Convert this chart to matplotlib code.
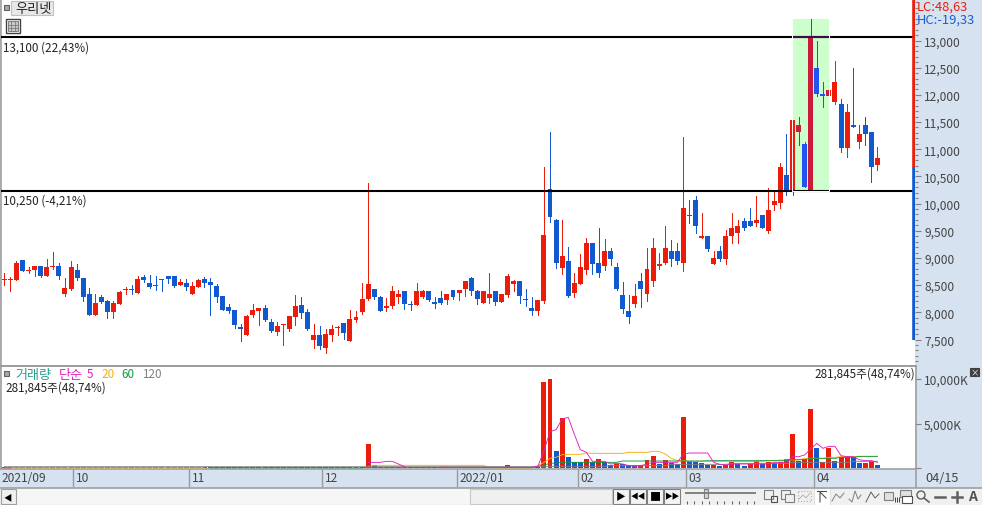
import matplotlib
matplotlib.use('Agg')
import matplotlib.pyplot as plt
from matplotlib.patches import Rectangle, Circle
from matplotlib.ticker import FuncFormatter, MultipleLocator

plt.rcParams['font.family'] = ['Noto Sans CJK KR', 'DejaVu Sans']
plt.rcParams['font.size'] = 8.4

# daily candles
opens = [8603, 8603, 8591, 8971, 8756, 8775, 8861, 8677, 8830, 8861,
         8345, 8437, 8787, 8640, 8345, 7959, 8290, 8217, 8014, 8161,
         8407, 8437, 8364, 8658, 8548, 8511, 8621, 8677, 8677, 8499,
         8548, 8345, 8474, 8621, 8566, 8493, 8309, 8106, 8051, 7738,
         7591, 7959, 8033, 8088, 7830, 7646, 7775, 7702, 7922, 8143,
         8014, 7499, 7591, 7346, 7591, 7720, 7812, 7481, 7867, 8015,
         8254, 8438, 8291, 8088, 8125, 8291, 8383, 8162, 8143, 8291,
         8401, 8199, 8272, 8235, 8419, 8364, 8438, 8640, 8383, 8180,
         8272, 8383, 8199, 8327, 8530, 8585, 8254, 8088, 8033, 8217,
         10277, 9707, 8824, 8953, 8364, 8530, 8787, 9284, 8916, 8861,
         9137, 8842, 8327, 8033, 8144, 8585, 8346, 8567, 8861, 8916,
         9119, 9119, 8916, 9781, 10075, 9376, 9413, 8898, 9137, 8990,
         9395, 9450, 9689, 9671, 9652, 9799, 9487, 9965, 10020, 10535,
         10241, 11308, 11087, 10241, 12485, 12025, 11970, 11860, 11841, 11014,
         11437, 11124, 11437, 11326, 10719]
closes = [8621, 8621, 8916, 8756, 8787, 8861, 8664, 8842, 8861, 8664,
          8456, 8842, 8628, 8278, 7959, 8180, 8198, 8014, 8180, 8382,
          8437, 8407, 8621, 8603, 8474, 8480, 8591, 8621, 8493, 8566,
          8474, 8493, 8603, 8548, 8499, 8290, 8051, 8033, 7775, 7702,
          7941, 8051, 8088, 7867, 7665, 7757, 7794, 7941, 8125, 7996,
          7702, 7591, 7389, 7610, 7702, 7739, 7628, 7886, 7923, 8254,
          8530, 8291, 8033, 8125, 8383, 8346, 8162, 8143, 8401, 8383,
          8235, 8162, 8180, 8346, 8291, 8419, 8585, 8401, 8254, 8383,
          8346, 8199, 8346, 8677, 8585, 8309, 8235, 8033, 8235, 9431,
          9762, 8916, 9045, 8309, 8548, 8842, 9284, 8898, 8732, 9137,
          8990, 8438, 8070, 7923, 8309, 8420, 8788, 9192, 8880, 9192,
          8990, 8953, 9928, 9763, 9579, 9413, 9156, 9008, 8990, 9395,
          9542, 9579, 9542, 9579, 9707, 9542, 9891, 10039, 10682, 10241,
          11529, 11437, 10314, 13074, 12007, 11970, 12081, 12228, 11014, 11676,
          11418, 11289, 11271, 10664, 10830]
highs = [8732, 8646, 8953, 8971, 8836, 8861, 8861, 8989, 9118, 8916,
         8640, 8953, 8897, 8640, 8456, 8345, 8327, 8235, 8217, 8401,
         8468, 8511, 8677, 8695, 8695, 8677, 8621, 8677, 8677, 8621,
         8621, 8566, 8621, 8658, 8640, 8529, 8309, 8161, 8051, 7794,
         7959, 8161, 8088, 8143, 7886, 7830, 7794, 7941, 8327, 8290,
         8069, 7794, 7757, 7702, 7775, 7757, 7812, 8051, 8033, 8548,
         10388, 8438, 8309, 8272, 8475, 8419, 8383, 8217, 8548, 8419,
         8401, 8291, 8383, 8346, 8419, 8419, 8585, 8658, 8419, 8383,
         8732, 8383, 8346, 8714, 8603, 8585, 8438, 8291, 8235, 10682,
         11326, 9725, 9707, 9210, 8732, 9081, 9376, 9284, 9560, 9357,
         9174, 8916, 8566, 8327, 8512, 8732, 9192, 9376, 9082, 9597,
         9339, 9266, 11234, 10075, 10131, 9818, 9413, 9119, 9211, 9523,
         9818, 9707, 9726, 9910, 10131, 9799, 10278, 10241, 10738, 11289,
         11529, 11584, 11142, 13405, 12982, 12228, 12890, 12632, 11933, 11841,
         12485, 11437, 11584, 11326, 11032]
lows = [8499, 8388, 8591, 8756, 8732, 8664, 8646, 8664, 8793, 8609,
        8296, 8407, 8603, 8217, 7947, 7959, 8180, 7904, 7904, 8161,
        8345, 8333, 8364, 8566, 8456, 8419, 8401, 8548, 8474, 8499,
        8419, 8345, 8474, 8474, 7959, 8198, 8051, 7996, 7720, 7481,
        7591, 7922, 7775, 7849, 7646, 7591, 7407, 7665, 7775, 7904,
        7683, 7352, 7334, 7260, 7481, 7591, 7518, 7481, 7831, 7978,
        8235, 8254, 8033, 8033, 8088, 8180, 8070, 8051, 8143, 8272,
        8217, 8088, 8162, 8162, 8254, 8235, 8309, 8327, 8162, 8180,
        8180, 8143, 8199, 8291, 8401, 8180, 8125, 7959, 7959, 8180,
        9670, 8824, 8714, 8291, 8291, 8530, 8714, 8714, 8658, 8787,
        8879, 8419, 7996, 7812, 8089, 8089, 8217, 8475, 8806, 8880,
        8861, 8880, 8769, 9652, 9468, 9376, 9119, 8880, 8953, 8880,
        9266, 9266, 9523, 9579, 9579, 9542, 9468, 9891, 9910, 10167,
        10167, 11069, 10314, 10241, 11970, 11768, 11823, 11823, 10958, 10866,
        11418, 11014, 11069, 10406, 10609]

# volume in thousands of shares
volumes = [110] * 60 + [2698, 337] + [110] * 21 + [337] + [110] * 5 + [
    9676, 10012, 1910, 5622, 1232, 674, 674, 1011, 674, 1011,
    674, 338, 444, 444, 338, 338, 338, 895, 1347, 444,
    895, 559, 444, 5737, 780, 674, 559, 338, 338, 223,
    338, 674, 444, 223, 444, 780, 444, 674, 559, 674,
    1011, 3825, 780, 1011, 6640, 2250, 674, 2250, 780, 1232,
    1347, 1232, 559, 559, 780, 282]
vol_colors = ('rrrbrrbrrb' 'rrbbbrbbrr' 'rbrbbbbbbr' 'brrbbbbbbb' 'rrrbbrrrrb'
              'brbrrrbrrr' 'rbbrbbrbrb' 'rbbrrbrbbr' 'rbrrbbbrr'
              'rrbrbbbrbr' 'bbrbbbrrrb' 'rbbrbbbbrb' 'rrbbrrbrbr'
              'rrbrrbrrbr' 'rbbrrb')

# averages; nan where a line can't be seen under another one
nan = float('nan')
ma5 = [20, 20] + [nan] * 58 + [637, 637, 637, 750, 750, 450, 146] + [nan] * 5 + [100] + [75] * 15 + [
    187, 1948, 4084, 4309, 5508, 5695, 3822, 2061, 1761, 749,
    749, 749, 450, 524, 450, 262, 187, 262, 450, 637,
    637, 637, 637, 637, 1574, 1686, 1686, 1686, 1686, 637,
    412, 337, 450, 450, 450, 450, 450, 450, 450, 637,
    637, 637, 1274, 1274, 1461, 2136, 2773, 2211, 2436, 2436,
    1386, 1274, 1274, 937, 824, 824, 637]
ma20 = [20] * 34 + [nan] * 26 + [150] + [300] * 19 + [30] * 8 + [
    262, 637, 1087, 1199, 1499, 1536, 1536, 1536, 1686, 1649,
    1649, 1649, 1649, 1649, 1649, 1761, 1761, 1761, 1761, 1873,
    1873, 1574, 1087, 824, 824, 749, 749, 749, 749, 749,
    749, 749, 749, 749, 749, 749, 749, 749, 824, 824,
    899, 899, 899, 899, 1087, 1087, 1087, 1087, 1199, 1199,
    1274, 1274, 1274, 1274, 1274, 1274, 1274]
ma60 = [nan] * 34 + [20] * 26 + [80] * 28 + [
    187, 337, 524, 562, 637, 637, 637, 637, 637, 637,
    637, 637, 637, 637, 787, 787, 787, 787, 787, 787,
    787, 787, 787, 787, 787, 787, 787, 787, 824, 824,
    824, 824, 824, 824, 824, 824, 824, 824, 824, 824,
    824, 824, 937, 937, 937, 1087, 1087, 1087, 1087, 1087,
    1199, 1199, 1199, 1311, 1311, 1311, 1311]
ma120 = [146] * 88 + [187] * 12 + [262] * 10 + [412] * 10 + [524] * 10 + [637] * 10 + [749] * 5

price_ticks = [7500, 8000, 8500, 9000, 9500, 10000, 10500, 11000, 11500, 12000, 12500, 13000]
volume_ticks = [0, 5000, 10000]
# where the two level lines sit on the picture's scale
resistance = 13065
support = 10240
month_ticks = [11.33, 30.46, 52.4, 74.7, 94.6, 112.4, 133.5]
month_labels = ['10', '11', '12', '2022/01', '02', '03', '04']

RED = '#ec1c0a'
BLUE = '#1059ce'
BOX_RED = '#cc1a3c'
BOX_BLUE = '#2255f0'
STRIP = '#d6e2f0'
EDGE = '#9a9a9a'
W, H = 982, 506


def px_box(x0, y0, x1, y1):
    return [x0 / W, 1 - y1 / H, (x1 - x0) / W, (y1 - y0) / H]


def draw_candles(ax, idx, up_col, down_col, clip=None):
    for i in idx:
        col = up_col if closes[i] >= opens[i] else down_col
        line = ax.vlines(i, lows[i], highs[i], color=col, lw=0.72, antialiased=False, zorder=3)
        top, bot = max(opens[i], closes[i]), min(opens[i], closes[i])
        rect = ax.bar(i, top - bot, bottom=bot, width=0.82, color=col, lw=0, antialiased=False, zorder=3)
        if clip is not None:
            line.set_clip_path(clip)
            rect[0].set_clip_path(clip)


fig = plt.figure(figsize=(W / 100, H / 100), dpi=100, facecolor=STRIP)
ax = fig.add_axes(px_box(1, 1, 915, 366))
ax_vol = fig.add_axes(px_box(1, 367, 915, 470))

x_range = (-0.549, 150.2)
n = len(opens)

# price panel
ax.set_xlim(x_range)
ax.set_ylim(7031, 13745)
box = Rectangle((129.9, 10240), 6.1, 3183, facecolor='#ccffcc', edgecolor='none', zorder=1)
ax.add_patch(box)
draw_candles(ax, range(n), RED, BLUE)
draw_candles(ax, range(131, 137), BOX_RED, BOX_BLUE, clip=box)
ax.hlines([resistance, support], x_range[0], x_range[1], color='black', lw=1.5, zorder=4)
ax.hlines(resistance, 129.9, 136.0, color='#3a0a4a', lw=1.5, zorder=5)
ax.add_patch(Rectangle((129.9, 10240), 6.1, 3183, fill=False, edgecolor='white', lw=0.7, zorder=6))
ax.vlines(149.97, 10682, 13745, color='#e8200c', lw=2.6, zorder=5)
ax.vlines(149.97, 7490, 10682, color=BLUE, lw=2.6, zorder=5)
for level, txt in [(resistance, '13,100 (22,43%)'), (support, '10,250 (-4,21%)')]:
    ax.annotate(txt, (0, level), xycoords=('axes fraction', 'data'), xytext=(1.5, -2.5),
                textcoords='offset points', va='top', color='#222222')
ax.set_xticks([])
ax.yaxis.tick_right()
ax.set_yticks(price_ticks)
ax.yaxis.set_major_formatter(FuncFormatter(lambda v, p: f'{int(v):,}'))
ax.yaxis.set_minor_locator(MultipleLocator(100))
ax.tick_params(axis='y', which='major', length=4.5, width=0.8, color='#808080', labelcolor='#444444', pad=2)
ax.tick_params(axis='y', which='minor', length=2.2, width=0.8, color='#808080')
ax.tick_params(axis='y', labelsize=8.6)

# volume panel
ax_vol.set_xlim(x_range)
ax_vol.set_ylim(-112, 11465)
ax_vol.bar(range(n), volumes, width=0.82, color=[RED if c == 'r' else BLUE for c in vol_colors],
           lw=0, antialiased=False, zorder=2)
ax_vol.plot(range(n), ma20, color='#f5b000', lw=0.65, zorder=3)
ax_vol.plot(range(n), ma60, color='#109a40', lw=0.65, zorder=4)
ax_vol.plot(range(n), ma120, color='#808080', lw=0.65, zorder=4)
ax_vol.plot(range(n), ma5, color='#e020c0', lw=0.65, zorder=5)
ax_vol.yaxis.tick_right()
ax_vol.set_yticks(volume_ticks)
ax_vol.set_yticklabels(['', '5,000K', '10,000K'])
ax_vol.tick_params(axis='y', length=4.5, width=0.8, color='#808080', labelcolor='#444444', pad=2, labelsize=8.6)
ax_vol.set_xticks(month_ticks)
ax_vol.set_xticklabels([])
ax_vol.tick_params(axis='x', length=13, width=1, color=EDGE)
for pos, label_txt in zip(month_ticks, month_labels):
    ax_vol.annotate(label_txt, (pos, 0), xycoords=('data', 'axes fraction'), xytext=(2, -1.5),
                    textcoords='offset points', va='top', color='#444444', fontsize=8.6)
for a in (ax, ax_vol):
    for spine in a.spines.values():
        spine.set_color(EDGE)
        spine.set_linewidth(1.1)
    a.spines['right'].set_visible(False)
ax.spines['top'].set_visible(False)
ax.spines['bottom'].set_visible(False)

# window chrome, in pixel coordinates
ui = fig.add_axes([0, 0, 1, 1], zorder=10)
ui.set_xlim(0, W)
ui.set_ylim(H, 0)
ui.axis('off')


def label(x, y, s, color='#222222', **kw):
    ui.text(x, y, s, color=color, va='center', **kw)


def box_px(x, y, w, h, fc='none', ec='#808080', lw=0.8, **kw):
    ui.add_patch(Rectangle((x, y), w, h, facecolor=fc, edgecolor=ec, lw=lw, **kw))


# top left
box_px(4, 6, 5, 5, fc='#a8a8a8', ec='#606060')
box_px(11, 2, 42, 14, fc='#e8e8e8', ec='#c0c0c0')
label(15, 9, '우리넷', fontsize=9.5)
box_px(6, 20, 14, 14, fc='#ffffff', ec='#404040', lw=1)
box_px(8, 22, 10, 10, fc='#c8c8c8', ec='#707070', lw=0.6)
ui.plot([11.3, 11.3], [22, 32], color='#707070', lw=0.5)
ui.plot([14.6, 14.6], [22, 32], color='#707070', lw=0.5)
ui.plot([8, 18], [25.5, 25.5], color='#707070', lw=0.5)
ui.plot([8, 18], [29, 29], color='#707070', lw=0.5)
label(917, 7, 'LC:48,63', color='#e8200c', fontsize=9.3)
label(917, 20, 'HC:-19,33', color='#1a5fd0', fontsize=9.3)

# volume legend
box_px(4, 372, 5, 5, fc='#a8a8a8', ec='#606060')
label(15, 375, '거래량', color='#2a9d8f', fontsize=9.4)
label(59, 375, '단순', color='#e020c0', fontsize=9.4)
label(87, 375, '5', color='#e020c0')
label(101, 375, '20', color='#f5b000')
label(121, 375, '60', color='#109a40')
label(142, 375, '120', color='#808080')
label(5, 388, '281,845주(48,74%)')
label(915, 374, '281,845주(48,74%)', ha='right')
box_px(970, 369, 9, 8, fc='#404040', ec='#404040')
ui.text(974.5, 372.7, '×', color='white', fontsize=6, ha='center', va='center')

# date bar
label(2, 479, '2021/09', color='#444444', fontsize=8.6)
label(925, 479, '04/15', color='#444444', fontsize=9.2)
ui.plot([916, 916], [367, 488], color=EDGE, lw=1.1)
ui.plot([0, W], [488.5, 488.5], color=EDGE, lw=1.1)
ui.plot([0, 916], [366.5, 366.5], color=EDGE, lw=1.1)

# scrollbar and toolbar
ui.add_patch(Rectangle((0, 489), W, 17, facecolor='#f0f0f0', edgecolor='none'))
ui.add_patch(Rectangle((16, 490), 454, 15, facecolor='#f6f6f6', edgecolor='none'))
box_px(1, 490, 15, 15, fc='#f0f0f0', ec='#a0a0a0')
ui.text(8, 497.5, '◀', fontsize=6, ha='center', va='center', color='black')
box_px(470, 490, 142, 15, fc='#f0f0f0', ec='#c8c8c8')
for x0, sym, size in [(613, '▶', 7), (630, '◀◀', 5.5), (647, '■', 8), (664, '▶▶', 5.5)]:
    box_px(x0, 490, 16, 15, fc='#f4f4f4', ec='#808080')
    ui.text(x0 + 8, 497.5, sym, fontsize=size, ha='center', va='center', color='black')
ui.plot([686, 755], [494, 494], color='#808080', lw=1.4)
box_px(704, 490, 4, 9, fc='#d8d8d8', ec='#808080')
ui.vlines([687 + 7.5 * k for k in range(10)], 502, 505, color='#404040', lw=0.6)
box_px(764, 491, 9, 9)
box_px(771, 497, 6, 6, ec='#505050')
box_px(781, 491, 9, 9)
box_px(785, 495, 9, 8, fc='#f0f0f0')
box_px(798, 492, 13, 10, ec='#b0b0b0', ls=':')
ui.plot([799, 803, 806, 810], [500, 496, 499, 494], color='#b0b0b0', lw=0.6)
box_px(814, 489, 16, 17, fc='#ffffff', ec='#e0e0e0')
ui.plot([817, 826], [492, 492], color='#505050', lw=0.8)
ui.plot([820, 820, 826], [503, 493, 499], color='#505050', lw=0.8)
ui.plot([832, 836, 840, 844], [502, 495, 499, 494], color='#808080', lw=0.7)
ui.plot([849, 852, 855, 858, 861], [500, 503, 492, 500, 496], color='#808080', lw=0.7)
ui.plot([866, 871, 875, 879], [503, 493, 499, 495], color='#606060', lw=0.7)
box_px(884, 493, 9, 8, fc='#e0e0e0')
ui.vlines([895, 897, 899], 498, 503, color='#404040', lw=0.7)
box_px(900, 491, 11, 7, fc='#e0e0e0')
box_px(902, 497, 10, 7, fc='#ffffff', ec='#505050')
ui.add_patch(Circle((921, 496), 4, fill=False, edgecolor='#606060', lw=1))
ui.plot([924, 929], [499, 503], color='#606060', lw=1.2)
ui.plot([935, 945], [498, 498], color='#606060', lw=1.8)
ui.plot([952, 962], [498, 498], color='#606060', lw=1.8)
ui.plot([957, 957], [493, 503], color='#606060', lw=1.8)
ui.text(973, 497.5, 'A', fontsize=10, fontweight='bold', color='#505050', ha='center', va='center')

fig.savefig('out.png', dpi=100)
